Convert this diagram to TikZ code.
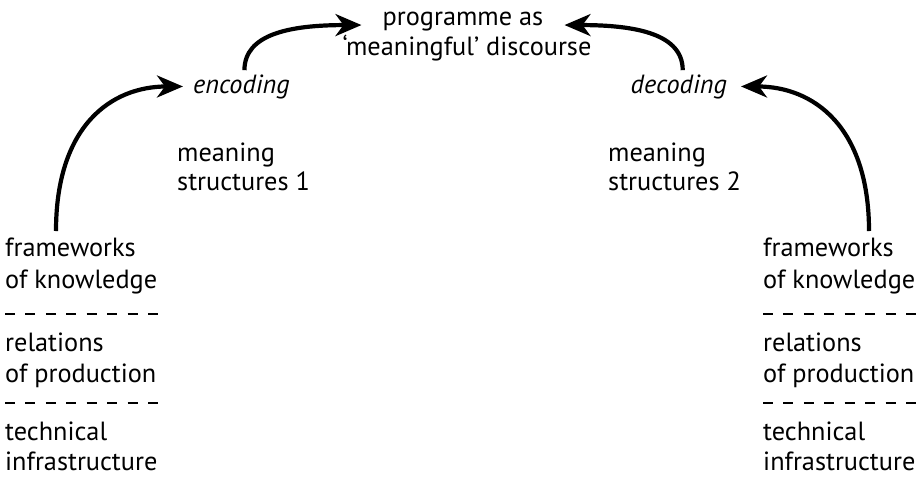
\documentclass[tikz,border=0pt]{standalone}
\usepackage{fontspec}
\setmainfont{PT Sans}
\usetikzlibrary{arrows.meta}
\newlength\tmpw
\begin{document}
\settowidth\tmpw{\normalfont\fontsize{10}{12}\selectfont of knowledge}%
\pgfmathsetmacro\fsz{10*152/\tmpw}%
\begin{tikzpicture}[x=1pt,y=-1pt]
\tikzset{
  lbl/.style={anchor=base west, inner sep=0pt, font=\fontsize{\fsz}{30}\selectfont},
  ilbl/.style={lbl, font=\fontsize{\fsz}{30}\selectfont\itshape},
  clbl/.style={lbl, anchor=base},
  flow/.style={line width=4.2pt, -{Stealth[length=26pt,width=22pt,inset=8pt]}},
  sep/.style={line width=2.6pt, dash pattern=on 10pt off 10.43pt}
}
\path[use as bounding box] (0,0) rectangle (920,477);
% top
\node[clbl] (prog) at (463,25) {programme as};
\node[clbl] (disc) at (467,55) {‘meaningful’ discourse};
% encoding / decoding
\node[ilbl] (enc) at (193,93) {encoding};
\node[ilbl, anchor=base east] (dec) at (727,93) {decoding};
% meaning structures
\node[lbl] (ms1a) at (177,161) {meaning};
\node[lbl] (ms1b) at (177,190) {structures 1};
\node[lbl] (ms2a) at (608,161) {meaning};
\node[lbl] (ms2b) at (608,190) {structures 2};
% left stack
\node[lbl] (lf1) at (5,256) {frameworks};
\node[lbl] (lf2) at (5,288) {of knowledge};
\node[lbl] (lr1) at (5,351) {relations};
\node[lbl] (lr2) at (5,382) {of production};
\node[lbl] (lt1) at (5,440) {technical};
\node[lbl] (lt2) at (5,470) {infrastructure};
% right stack
\node[lbl] (rf1) at (763,256) {frameworks};
\node[lbl] (rf2) at (763,288) {of knowledge};
\node[lbl] (rr1) at (763,351) {relations};
\node[lbl] (rr2) at (763,382) {of production};
\node[lbl] (rt1) at (763,440) {technical};
\node[lbl] (rt2) at (763,470) {infrastructure};
% separators
\draw[sep] (5,314) -- (158,314);
\draw[sep] (5,403) -- (158,403);
\draw[sep] (763,314) -- (916,314);
\draw[sep] (763,403) -- (916,403);
% arrows
\coordinate (ls) at (56,231);
\coordinate (rs) at (869,231);
\coordinate (le) at ([xshift=-10pt]enc.west);
\coordinate (re) at ([xshift=14pt]dec.east);
\coordinate (ts1) at ([xshift=3pt,yshift=4pt]enc.north);
\coordinate (ts2) at ([xshift=4pt,yshift=4pt]dec.north);
\coordinate (te1) at ([xshift=-21pt,yshift=-4pt]prog.west);
\coordinate (te2) at ([xshift=21pt,yshift=-4pt]prog.east);
\draw[flow] (ls) .. controls +(0,-105) and +(-72,0) .. (le);
\draw[flow] (rs) .. controls +(0,-105) and +(72,0) .. (re);
\draw[flow] (ts1) .. controls +(0,-36) and +(-72,0) .. (te1);
\draw[flow] (ts2) .. controls +(0,-36) and +(72,0) .. (te2);
\end{tikzpicture}
\end{document}
